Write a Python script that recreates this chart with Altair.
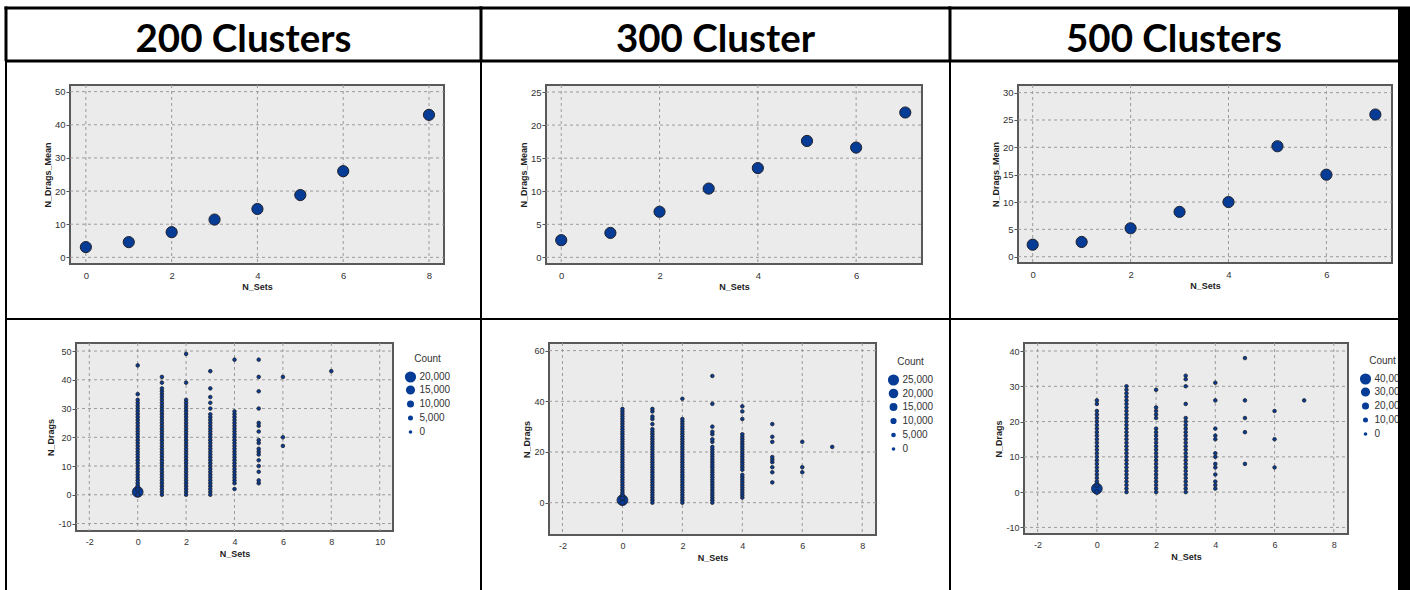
import altair as alt
import pandas as pd

FONT = "Liberation Sans"
HEAD_FONT = "Lato"
BLUE = "#063c96"
EDGE = "#20202a"
PLOT_BG = "#ebebeb"
PLOT_BORDER = "#595959"
GRID = "#9b9b9b"

titles = ["200 Clusters", "300 Cluster", "500 Clusters"]

# ---- top row: mean N_Drags per N_Sets ----
sets_200 = [0, 1, 2, 3, 4, 5, 6, 8]
mean_200 = [3.1, 4.6, 7.6, 11.4, 14.6, 18.8, 26.0, 43.0]
sets_300 = [0, 1, 2, 3, 4, 5, 6, 7]
mean_300 = [2.6, 3.7, 6.9, 10.4, 13.5, 17.6, 16.6, 21.9]
sets_500 = [0, 1, 2, 3, 4, 5, 6, 7]
mean_500 = [2.2, 2.7, 5.2, 8.2, 10.0, 20.2, 15.0, 26.0]

# ---- bottom row: observed N_Drags values for each N_Sets ----
drags_200 = {
    0: [0, 1, 2, 3, 4, 5, 6, 7, 8, 9, 10, 11, 12, 13, 14, 15, 16, 17, 18, 19, 20, 21, 22, 23, 24, 25, 26, 27, 28, 29, 30, 31, 32, 33, 35, 45],
    1: [0, 1, 2, 3, 4, 5, 6, 7, 8, 9, 10, 11, 12, 13, 14, 15, 16, 17, 18, 19, 20, 21, 22, 23, 24, 25, 26, 27, 28, 29, 30, 31, 32, 33, 34, 35, 36, 37, 39, 41],
    2: [0, 1, 2, 3, 4, 5, 6, 7, 8, 9, 10, 11, 12, 13, 14, 15, 16, 17, 18, 19, 20, 21, 22, 23, 24, 25, 26, 27, 28, 29, 30, 31, 32, 33, 39, 49],
    3: [0, 1, 2, 3, 4, 5, 6, 7, 8, 9, 10, 11, 12, 13, 14, 15, 16, 17, 18, 19, 20, 21, 22, 23, 24, 25, 26, 27, 28, 30, 32, 34, 37, 43],
    4: [2, 4, 5, 6, 7, 8, 9, 10, 11, 12, 13, 14, 15, 16, 17, 18, 19, 20, 21, 22, 23, 24, 25, 26, 27, 28, 29, 47],
    5: [4, 5, 8, 10, 12, 14, 15, 16, 18, 19, 22, 24, 25, 30, 36, 41, 47],
    6: [17, 20, 41],
    8: [43],
}
drags_300 = {
    0: [0, 1, 2, 3, 4, 5, 6, 7, 8, 9, 10, 11, 12, 13, 14, 15, 16, 17, 18, 19, 20, 21, 22, 23, 24, 25, 26, 27, 28, 29, 30, 31, 32, 33, 34, 35, 36, 37],
    1: [0, 1, 2, 3, 4, 5, 6, 7, 8, 9, 10, 11, 12, 13, 14, 15, 16, 17, 18, 19, 20, 21, 22, 23, 24, 25, 26, 27, 28, 29, 31, 33, 34, 36, 37],
    2: [0, 1, 2, 3, 4, 5, 6, 7, 8, 9, 10, 11, 12, 13, 14, 15, 16, 17, 18, 19, 20, 21, 22, 23, 24, 25, 26, 27, 28, 29, 30, 31, 32, 33, 41],
    3: [0, 1, 2, 3, 4, 5, 6, 7, 8, 9, 10, 11, 12, 13, 14, 15, 16, 17, 18, 19, 20, 21, 22, 24, 25, 27, 28, 30, 39, 50],
    4: [2, 3, 4, 5, 6, 7, 8, 9, 10, 11, 13, 14, 15, 16, 17, 18, 19, 20, 21, 22, 23, 24, 25, 26, 27, 33, 36, 38],
    5: [8, 12, 14, 16, 17, 18, 24, 26, 31],
    6: [12, 14, 24],
    7: [22],
}
drags_500 = {
    0: [0, 1, 2, 3, 4, 5, 6, 7, 8, 9, 10, 11, 12, 13, 14, 15, 16, 17, 18, 19, 20, 21, 22, 23, 25, 26],
    1: [0, 1, 2, 3, 4, 5, 6, 7, 8, 9, 10, 11, 12, 13, 14, 15, 16, 17, 18, 19, 20, 21, 22, 23, 24, 25, 26, 27, 28, 29, 30],
    2: [0, 1, 2, 3, 4, 5, 6, 7, 8, 9, 10, 11, 12, 13, 14, 15, 16, 17, 18, 21, 22, 23, 24, 29],
    3: [0, 1, 2, 3, 4, 5, 6, 7, 8, 9, 10, 11, 12, 13, 14, 15, 16, 17, 18, 19, 20, 21, 25, 30, 32, 33],
    4: [1, 2, 3, 5, 7, 8, 10, 11, 15, 16, 18, 26, 31],
    5: [8, 17, 21, 26, 38],
    6: [7, 15, 23],
    7: [26],
}
# counts of the visibly enlarged points; every other dot is read as a small count
big_200 = {(0, 0): 3000, (0, 1): 19000, (0, 2): 4000, (0, 3): 1800, (0, 4): 900, (0, 5): 500}
big_300 = {(0, 0): 6000, (0, 1): 24000, (0, 2): 7000, (0, 3): 2500, (0, 4): 1000}
big_500 = {(0, 0): 8000, (0, 1): 38000, (0, 2): 8000, (0, 3): 2000, (0, 4): 900}
small_count = 100

legend_200 = [20000, 15000, 10000, 5000, 0]
legend_300 = [25000, 20000, 15000, 10000, 5000, 0]
legend_500 = [40000, 30000, 20000, 10000, 0]

# ---- table geometry (page pixels) ----
CELL_X = [0, 481, 950, 1398, 1410]   # last column is the thick right border
CELL_Y = [0, 61, 319, 590]
LEFT_X = 6
TOP_Y = 8
SW_V = [3, 2, 2]
SW_H = [3, 3, 2]

# plot rectangles in each cell's own coordinates: (left, top, width, height)
TOP_PLOTS = [(70, 24, 374, 179), (65, 24, 376, 179), (68, 24, 374, 178)]
BOT_PLOTS = [(76, 24, 317, 188), (68, 24, 327, 192), (74, 24, 324, 191)]
LEGEND_POS = [(404.5, 35), (406.5, 38), (409.5, 37)]

ONE = pd.DataFrame({"k": [0]})
NEG = "datum.value < 0 ? '-' + abs(datum.value) : '' + datum.value"


def cell_size(r, c):
    return CELL_X[c + 1] - CELL_X[c], CELL_Y[r + 1] - CELL_Y[r]


def rect_layers(rects):
    return [
        alt.Chart(ONE).mark_rect(color="black", opacity=op).encode(
            x=alt.value(a), x2=alt.value(b), y=alt.value(y1), y2=alt.value(y2))
        for a, b, y1, y2, op in rects
    ]


def frame_layers(r, c):
    W, H = cell_size(r, c)
    swv, swh = SW_V[r], SW_H[r]
    vx = (LEFT_X if c == 0 else CELL_X[c]) - CELL_X[c]
    hy = (TOP_Y if r == 0 else CELL_Y[r]) - CELL_Y[r]
    return rect_layers([
        (0, W, 0, H, 0),
        (vx - swv / 2, vx + swv / 2, hy - swh / 2, H, 1),
        (vx - swv / 2, W, hy - swh / 2, hy + swh / 2, 1),
    ])


def bar_cell(r):
    W, H = cell_size(r, 3)
    swh = SW_H[r]
    hy = (TOP_Y if r == 0 else CELL_Y[r]) - CELL_Y[r]
    return alt.layer(*rect_layers([(0, W, hy - swh / 2, H, 1)])).properties(width=W, height=H)


def x_axis(vals, fs, offset):
    return alt.Axis(values=vals, title="N_Sets", grid=False, domain=False, ticks=False, offset=offset,
                    labelPadding=6, labelFont=FONT, labelFontSize=fs, labelColor="#333",
                    labelFlush=False, labelOverlap=False, titleFont=FONT, titleFontSize=9,
                    titleFontWeight="bold", titleColor="#222", titlePadding=3, labelExpr=NEG)


def y_axis(vals, title, fs, offset):
    return alt.Axis(values=vals, title=title, grid=False, domain=False, ticks=True, tickSize=4,
                    tickColor="#555", offset=offset, labelPadding=1, labelFont=FONT,
                    labelFontSize=fs, labelColor="#333", labelFlush=False, labelOverlap=False,
                    titleFont=FONT, titleFontSize=9, titleFontWeight="bold", titleColor="#222",
                    titlePadding=2, labelExpr=NEG)


def panel_base(plot, xfield, yfield, xdom, xvals, ydom, yvals):
    L, T, w, h = plot
    xs = alt.Scale(domain=xdom, range=[L, L + w], nice=False, zero=False)
    ys = alt.Scale(domain=ydom, range=[T + h, T], nice=False, zero=False)
    bg = alt.Chart(ONE).mark_rect(fill=PLOT_BG, stroke=PLOT_BORDER, strokeWidth=2).encode(
        x=alt.value(L), x2=alt.value(L + w), y=alt.value(T), y2=alt.value(T + h))
    vgrid = alt.Chart(pd.DataFrame({xfield: xvals})).mark_rule(
        color=GRID, strokeDash=[3, 3], strokeWidth=1).encode(
        x=alt.X(f"{xfield}:Q", scale=xs), y=alt.value(T), y2=alt.value(T + h))
    hgrid = alt.Chart(pd.DataFrame({yfield: yvals})).mark_rule(
        color=GRID, strokeDash=[3, 3], strokeWidth=1).encode(
        y=alt.Y(f"{yfield}:Q", scale=ys), x=alt.value(L), x2=alt.value(L + w))
    return xs, ys, [bg, vgrid, hgrid]


def header_chart(c):
    W, H = cell_size(0, c)
    x0 = LEFT_X if c == 0 else CELL_X[c]
    x1 = CELL_X[c + 1]
    df = pd.DataFrame({"title": [titles[c]]})
    txt = alt.Chart(df).mark_text(font=HEAD_FONT, fontSize=38.5, fontWeight="bold", color="black",
                                  align="center", baseline="alphabetic").encode(
        text="title:N", x=alt.value((x0 + x1) / 2 - CELL_X[c]), y=alt.value(52))
    return alt.layer(txt, *frame_layers(0, c)).properties(width=W, height=H)


def mean_chart(c, sets, means, xdom, xvals, ydom, yvals):
    W, H = cell_size(1, c)
    plot = TOP_PLOTS[c]
    L, T, w, h = plot
    xs, ys, base = panel_base(plot, "N_Sets", "N_Drags_Mean", xdom, xvals, ydom, yvals)
    df = pd.DataFrame({"N_Sets": sets, "N_Drags_Mean": means})
    pts = alt.Chart(df).mark_circle(color=BLUE, stroke=EDGE, strokeWidth=1, opacity=1, size=125).encode(
        x=alt.X("N_Sets:Q", scale=xs, axis=x_axis(xvals, 9.5, (T + h) - H)),
        y=alt.Y("N_Drags_Mean:Q", scale=ys, axis=y_axis(yvals, "N_Drags_Mean", 9.5, -L)))
    return alt.layer(*base, pts, *frame_layers(1, c)).properties(width=W, height=H)


def count_chart(c, drags, big, legend_vals, xdom, xvals, ydom, yvals):
    W, H = cell_size(2, c)
    plot = BOT_PLOTS[c]
    L, T, w, h = plot
    xs, ys, base = panel_base(plot, "N_Sets", "N_Drags", xdom, xvals, ydom, yvals)
    rows = []
    for s, ys_list in drags.items():
        for y in ys_list:
            rows.append({"N_Sets": s, "N_Drags": y, "Count": big.get((s, y), small_count)})
    df = pd.DataFrame(rows).sort_values("Count", ascending=False, kind="stable")
    lx, ly = LEGEND_POS[c]
    pts = alt.Chart(df).mark_circle(color=BLUE, stroke=EDGE, strokeWidth=0.8, opacity=1).encode(
        x=alt.X("N_Sets:Q", scale=xs, axis=x_axis(xvals, 9, (T + h) - H)),
        y=alt.Y("N_Drags:Q", scale=ys, axis=y_axis(yvals, "N_Drags", 9, -L)),
        size=alt.Size("Count:Q",
                      scale=alt.Scale(type="pow", exponent=1.6, domain=[0, legend_vals[0]], range=[13, 125]),
                      legend=alt.Legend(values=legend_vals, format=",d", title="Count", orient="none",
                                        legendX=lx, legendY=ly, titleAnchor="middle", padding=0,
                                        labelFont=FONT, labelFontSize=10, labelColor="#333",
                                        titleFont=FONT, titleFontSize=10, titleFontWeight="normal",
                                        titleColor="#333", titlePadding=7, rowPadding=-2.5,
                                        gridAlign="all", labelOffset=3,
                                        symbolType="circle", symbolFillColor=BLUE,
                                        symbolStrokeColor=EDGE, symbolStrokeWidth=0.8, symbolOpacity=1)))
    return alt.layer(*base, pts, *frame_layers(2, c)).properties(width=W, height=H)


headers = [header_chart(c) for c in range(3)] + [bar_cell(0)]
tops = [
    mean_chart(0, sets_200, mean_200, [-0.37, 8.35], [0, 2, 4, 6, 8], [-2, 52], [0, 10, 20, 30, 40, 50]),
    mean_chart(1, sets_300, mean_300, [-0.31, 7.34], [0, 2, 4, 6], [-1, 26.06], [0, 5, 10, 15, 20, 25]),
    mean_chart(2, sets_500, mean_500, [-0.3, 7.34], [0, 2, 4, 6], [-1.15, 31.4], [0, 5, 10, 15, 20, 25, 30]),
    bar_cell(1),
]
bots = [
    count_chart(0, drags_200, big_200, legend_200, [-2.55, 10.55], [-2, 0, 2, 4, 6, 8, 10],
                [-12.6, 52.8], [-10, 0, 10, 20, 30, 40, 50]),
    count_chart(1, drags_300, big_300, legend_300, [-2.45, 8.46], [-2, 0, 2, 4, 6, 8],
                [-12.75, 63.0], [0, 20, 40, 60]),
    count_chart(2, drags_500, big_500, legend_500, [-2.46, 8.48], [-2, 0, 2, 4, 6, 8],
                [-11.87, 42.27], [-10, 0, 10, 20, 30, 40]),
    bar_cell(2),
]

chart = alt.concat(
    *headers, *tops, *bots, columns=4, spacing=0, bounds="flush", align="each",
).resolve_scale(
    size="independent", x="independent", y="independent",
).resolve_legend(
    size="independent",
).properties(
    padding=0,
    background="white",
).configure_view(stroke=None)

chart.save("out.html", embed_options={"renderer": "svg", "actions": False})
